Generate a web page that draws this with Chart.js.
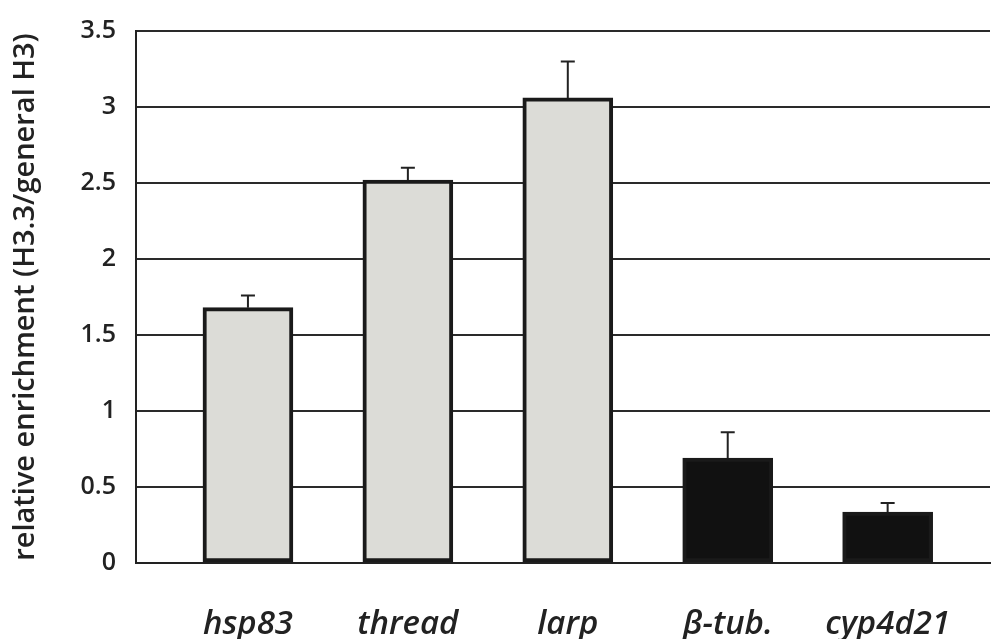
<!DOCTYPE html>
<html lang="en">
<head>
    <meta charset="UTF-8">
    <title>Relative enrichment H3.3</title>
    <script src="https://cdn.jsdelivr.net/npm/chart.js@4/dist/chart.umd.min.js"></script>
    <style>
        body {
            margin: 0;
            padding: 0;
            background: #ffffff;
        }
        .chart-container {
            width: 993px;
            height: 639px;
        }
    </style>
</head>
<body>
    <div class="chart-container">
        <canvas id="enrichChart"></canvas>
    </div>

    <script>
        // values
        const genes = ['hsp83', 'thread', 'larp', 'β-tub.', 'cyp4d21'];
        const enrichment = [1.68, 2.52, 3.06, 0.69, 0.335];
        const errorUp = [0.08, 0.08, 0.24, 0.17, 0.06];
        const yTicks = [0, 0.5, 1, 1.5, 2, 2.5, 3, 3.5];

        const barFill = ['#dcdcd7', '#dcdcd7', '#dcdcd7', '#111111', '#111111'];

        const ctx = document.getElementById('enrichChart').getContext('2d');

        const errorBarPlugin = {
            id: 'errorBars',
            afterDatasetsDraw(chart) {
                const c = chart.ctx;
                const xs = chart.scales.x;
                const ys = chart.scales.y;
                c.save();
                c.strokeStyle = '#222222';
                c.lineWidth = 2;
                enrichment.forEach((v, i) => {
                    const x = xs.getPixelForValue(i);
                    const yTop = ys.getPixelForValue(v + errorUp[i]);
                    const yBar = ys.getPixelForValue(v);
                    c.beginPath();
                    c.moveTo(x, yBar);
                    c.lineTo(x, yTop);
                    c.moveTo(x - 7, yTop);
                    c.lineTo(x + 7, yTop);
                    c.stroke();
                });
                c.restore();
            }
        };

        new Chart(ctx, {
            type: 'bar',
            data: {
                datasets: [{
                    data: enrichment.map((v, i) => ({ x: i, y: v })),
                    backgroundColor: barFill,
                    borderColor: '#1a1a1a',
                    borderWidth: 4,
                    borderSkipped: false,
                    barThickness: 90
                }]
            },
            options: {
                responsive: true,
                maintainAspectRatio: false,
                animation: false,
                layout: {
                    padding: { left: 0, right: 3, top: 31, bottom: 0 }
                },
                plugins: {
                    legend: { display: false },
                    tooltip: { enabled: false }
                },
                scales: {
                    x: {
                        type: 'linear',
                        offset: false,
                        min: -0.7,
                        max: 4.64,
                        afterBuildTicks(axis) {
                            axis.ticks = genes.map((g, i) => ({ value: i }));
                        },
                        afterFit(axis) {
                            axis.height = 76;
                            axis.paddingLeft = 0;
                            axis.paddingRight = 0;
                        },
                        ticks: {
                            callback: (val) => genes[val],
                            color: '#222222',
                            padding: 34,
                            maxRotation: 0,
                            autoSkip: false,
                            font: { family: 'Open Sans', size: 33, style: 'italic', weight: '600' }
                        },
                        grid: { display: false },
                        border: { display: true, color: '#222222', width: 2 }
                    },
                    y: {
                        min: 0,
                        max: 3.5,
                        afterBuildTicks(axis) {
                            axis.ticks = yTicks.map(v => ({ value: v }));
                        },
                        afterFit(axis) {
                            axis.width = 136;
                            axis.paddingTop = 0;
                            axis.paddingBottom = 0;
                        },
                        title: {
                            display: true,
                            text: 'relative enrichment (H3.3/general H3)',
                            color: '#222222',
                            padding: { top: 8, bottom: 4 },
                            font: { family: 'Open Sans', size: 29, weight: '600' }
                        },
                        ticks: {
                            callback: (val) => String(val),
                            color: '#222222',
                            padding: 20,
                            font: { family: 'Open Sans', size: 25, weight: '600' }
                        },
                        grid: {
                            color: '#2a2a2a',
                            lineWidth: 2,
                            drawTicks: false
                        },
                        border: { display: true, color: '#222222', width: 2 }
                    }
                }
            },
            plugins: [errorBarPlugin]
        });
    </script>
</body>
</html>
